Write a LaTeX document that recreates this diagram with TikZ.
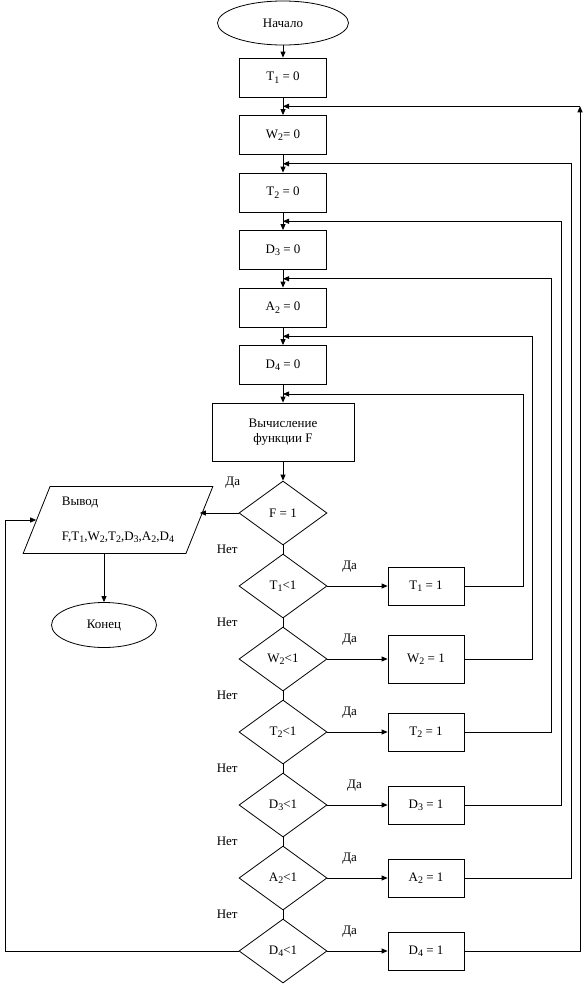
\documentclass[tikz,border=0pt]{standalone}
\usepackage{fontspec}
\setmainfont{Liberation Serif}
\usetikzlibrary {arrows.meta,shapes.geometric,positioning}
\newcommand{\ix}[1]{\raisebox{-2.5pt}{\fontsize{10}{10}\selectfont #1}}

\begin{document}
\begin{tikzpicture}[x=1pt, y=1pt, node distance= 57.5pt,
    font=\fontsize{13}{15}\selectfont, line width=0.8pt,
    arr/.style={-{Triangle[length=6pt,width=5pt]}},
    term/.style={ellipse, draw, minimum width=131pt, minimum height=44pt},
    proc/.style={rectangle, draw, minimum width=87pt, minimum height=39pt},
    cond/.style={diamond, draw, minimum width=88pt, minimum height=64pt, inner sep=0pt},
    setbox/.style={rectangle, draw, minimum width=76pt, minimum height=38pt},
    io/.style={trapezium, trapezium left angle=66, trapezium right angle=114,
      trapezium stretches=true, draw, minimum width=190pt, minimum height=67pt, align=left},
    lbl/.style={inner sep=0pt}]
      \useasboundingbox (0,0) rectangle (585,-991);
      % main column
      \node[term] (start) at (283,-23) {Начало};
      \node[proc] (t1z) [node distance= 54.5pt, below of= start] {T\ix{1} = 0};
      \node[proc] (w2z) [below of= t1z] {W\ix{2}= 0};
      \node[proc] (t2z) [below of= w2z] {T\ix{2} = 0};
      \node[proc] (d3z) [below of= t2z] {D\ix{3} = 0};
      \node[proc] (a2z) [below of= d3z] {A\ix{2} = 0};
      \node[proc] (d4z) [below of= a2z] {D\ix{4} = 0};
      \node[proc, minimum width=142pt, minimum height=58pt, align=center] (calc)
        [node distance= 67pt, below of= d4z] {Вычисление\\функции F};
      % tests
      \begin{scope}[node distance= 73pt]
        \node[cond] (f1) [node distance= 81pt, below of= calc] {F = 1};
        \node[cond] (t1c) [below of= f1] {T\ix{1}<1};
        \node[cond] (w2c) [below of= t1c] {W\ix{2}<1};
        \node[cond] (t2c) [below of= w2c] {T\ix{2}<1};
        \node[cond] (d3c) [below of= t2c] {D\ix{3}<1};
        \node[cond] (a2c) [below of= d3c] {A\ix{2}<1};
        \node[cond] (d4c) [below of= a2c] {D\ix{4}<1};
      \end{scope}
      % set to one
      \begin{scope}[node distance= 143pt]
        \node[setbox] (t1o) [right of= t1c] {T\ix{1} = 1};
        \node[setbox, minimum height=48pt] (w2o) [right of= w2c] {W\ix{2} = 1};
        \node[setbox] (t2o) [right of= t2c] {T\ix{2} = 1};
        \node[setbox] (d3o) [right of= d3c] {D\ix{3} = 1};
        \node[setbox] (a2o) [right of= a2c] {A\ix{2} = 1};
        \node[setbox] (d4o) [right of= d4c] {D\ix{4} = 1};
      \end{scope}
      % output and end
      \node[io] (out) at (118,-520) {Вывод\\[20pt]F,T\ix{1},W\ix{2},T\ix{2},D\ix{3},A\ix{2},D\ix{4}};
      \node[term, minimum width=105pt, minimum height=45pt] (finish) at (104,-625) {Конец};
      % junctions on the main line
      \coordinate (j1) at ([yshift=-28.75pt]t1z.center);
      \coordinate (j2) at ([yshift=-28.75pt]w2z.center);
      \coordinate (j3) at ([yshift=-28.75pt]t2z.center);
      \coordinate (j4) at ([yshift=-28.75pt]d3z.center);
      \coordinate (j5) at ([yshift=-28.75pt]a2z.center);
      \coordinate (j6) at ([yshift=-29pt]d4z.center);
      \coordinate (c1) at ([xshift=240pt]j6);
      \coordinate (c2) at ([xshift=249pt]j5);
      \coordinate (c3) at ([xshift=268pt]j4);
      \coordinate (c4) at ([xshift=278pt]j3);
      \coordinate (c5) at ([xshift=288pt]j2);
      \coordinate (c6) at ([xshift=297pt]j1);
      \coordinate (cl) at ([xshift=-31pt]out.west);
      \begin{scope}
        [every edge/.style={draw, arr}]
        \path (start) edge (t1z);
        \path (t1z) edge (w2z);
        \path (w2z) edge (t2z);
        \path (t2z) edge (d3z);
        \path (d3z) edge (a2z);
        \path (a2z) edge (d4z);
        \path (d4z) edge (calc);
        \path (calc) edge (f1);
        \path (f1.west) edge node[lbl, pos=0.15, above=24pt] {Да} (f1.west -| out.east);
        \path (t1c) edge node[lbl, pos=0.37, above=13pt] {Да} (t1o);
        \path (w2c) edge node[lbl, pos=0.37, above=13pt] {Да} (w2o);
        \path (t2c) edge node[lbl, pos=0.37, above=13pt] {Да} (t2o);
        \path (d3c) edge node[lbl, pos=0.45, above=13pt] {Да} (d3o);
        \path (a2c) edge node[lbl, pos=0.37, above=13pt] {Да} (a2o);
        \path (d4c) edge node[lbl, pos=0.37, above=13pt] {Да} (d4o);
      \end{scope}
      \begin{scope}
        [every edge/.style={draw}]
        \path (f1) edge node[lbl, left=45pt] {Нет} (t1c);
        \path (t1c) edge node[lbl, left=45pt] {Нет} (w2c);
        \path (w2c) edge node[lbl, left=45pt] {Нет} (t2c);
        \path (t2c) edge node[lbl, left=45pt] {Нет} (d3c);
        \path (d3c) edge node[lbl, left=45pt] {Нет} (a2c);
        \path (a2c) edge node[lbl, left=45pt] {Нет} (d4c);
      \end{scope}
      % back to the main line
      \draw[arr] (t1o.east) -| (c1) -- (j6);
      \draw[arr] (w2o.east) -| (c2) -- (j5);
      \draw[arr] (t2o.east) -| (c3) -- (j4);
      \draw[arr] (d3o.east) -| (c4) -- (j3);
      \draw[arr] (a2o.east) -| (c5) -- (j2);
      \draw[arr] (d4o.east) -| (c6);
      \draw[arr] (c6) -- (j1);
      \draw[arr] (d4c.west) -| (cl) -- (out.west);
      \draw[arr] (out.south -| finish.north) -- (finish.north);
    \end{tikzpicture}
\end{document}
